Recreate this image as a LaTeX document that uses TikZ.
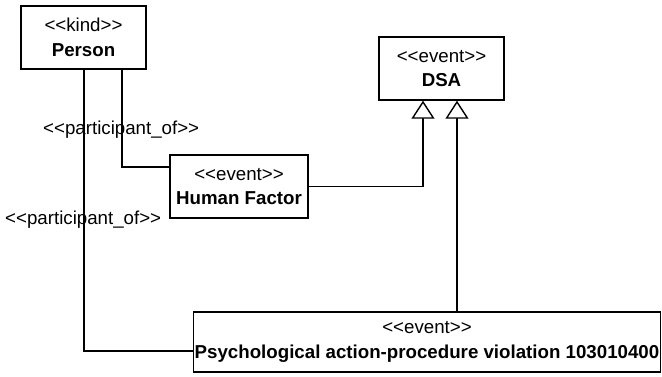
\documentclass[tikz,border=0pt]{standalone}
\usepackage{fontspec}
\newfontfamily\umlfont{Liberation Sans}
\usetikzlibrary{arrows.meta}
\begin{document}
\begin{tikzpicture}[x=1pt,y=-1pt,
  every node/.style={font=\umlfont\fontsize{18.7}{24.5}\selectfont},
  classbox/.style={draw,line width=1.4pt,inner sep=0pt,align=center,fill=white},
  link/.style={line width=1.4pt},
  gen/.style={line width=1.4pt,-{Triangle[open,length=18pt,width=23pt,fill=white]}},
  lbl/.style={inner sep=0pt,anchor=west}]
\useasboundingbox (0,0) rectangle (662,376);
\node[classbox,minimum width=125pt,minimum height=63pt] (person) at (83.5,37.5)
  {<<kind>>\\\textbf{Person}};
\node[classbox,minimum width=125pt,minimum height=63pt] (dsa) at (441.5,68.5)
  {<<event>>\\\textbf{DSA}};
\node[classbox,minimum width=138pt,minimum height=63pt] (hf) at (239,186.5)
  {<<event>>\\\textbf{Human Factor}};
\node[classbox,minimum width=467pt,minimum height=60pt] (psy) at (427,342)
  {<<event>>\\\textbf{Psychological action-procedure violation 103010400}};
% participation links
\draw[link] ([xshift=38.5pt]person.south) |- ([yshift=19.5pt]hf.west);
\draw[link] ([xshift=0.5pt]person.south) |- ([yshift=-9pt]psy.west);
% generalizations to DSA
\draw[gen] (hf.east) -| ([xshift=-18.5pt]dsa.south);
\draw[gen] ([xshift=30pt]psy.north) -- ([xshift=15.5pt]dsa.south);
% labels
\node[lbl] (l1) at (43,130) {<<participant\_of>>};
\node[lbl] (l2) at (5,220) {<<participant\_of>>};
\end{tikzpicture}
\end{document}
